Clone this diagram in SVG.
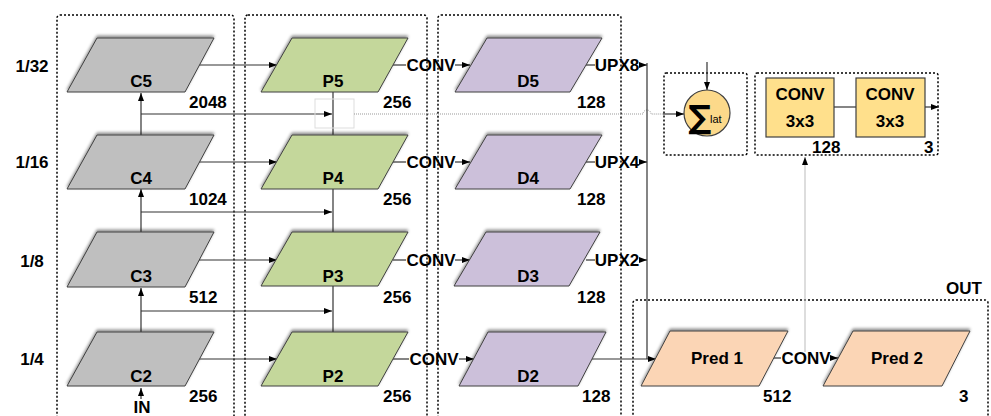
<svg xmlns="http://www.w3.org/2000/svg" width="991" height="416" viewBox="0 0 991 416">
<style>
.t{font-family:"Liberation Sans",Arial,sans-serif;font-weight:bold;font-size:17px;fill:#000}
.m{text-anchor:middle}
.box{fill:none;stroke:#000;stroke-width:1.5;stroke-dasharray:2,2}
.par{stroke:#404040;stroke-width:1;filter:url(#sh)}
.g{fill:#BFBFBF}.gr{fill:#C4D79B}.pu{fill:#CCC0DA}.pe{fill:#FBD5B5}
.ln{fill:none;stroke:#333;stroke-width:1.2}
.ar{fill:none;stroke:#333;stroke-width:1.2;marker-end:url(#ah)}
.cv{fill:#FFE08C;stroke:#404040;stroke-width:1.2}
</style>
<defs>
<marker id="ah" viewBox="0 0 8 6" refX="8" refY="3" markerWidth="8" markerHeight="6" markerUnits="userSpaceOnUse" orient="auto"><path d="M0,0 L8,3 L0,6 z" fill="#000"/></marker>
<filter id="sh" x="-10%" y="-20%" width="120%" height="140%"><feDropShadow dx="0" dy="-2" stdDeviation="1.8" flood-color="#000" flood-opacity="0.45"/></filter>
</defs>
<rect width="991" height="416" fill="#fff"/>

<g id="groups">
<rect class="box" x="57" y="15" width="177" height="430" rx="3"/>
<rect class="box" x="245" y="15" width="182" height="430" rx="3"/>
<rect class="box" x="438" y="15" width="183" height="430" rx="3"/>
<rect class="box" x="633" y="300" width="355" height="150" rx="3"/>
<text class="t" x="946" y="294">OUT</text>
<rect class="box" x="664" y="73" width="83" height="82" rx="2"/>
<rect class="box" x="755" y="73" width="183" height="82" rx="2"/>
</g>

<g id="scales">
<text class="t m" x="32" y="72">1/32</text>
<text class="t m" x="32" y="168">1/16</text>
<text class="t m" x="32" y="267">1/8</text>
<text class="t m" x="32" y="365">1/4</text>
</g>

<g id="connectors">
<path class="ar" d="M141,399 V388"/>
<path class="ar" d="M141,360 V288"/>
<path class="ar" d="M141,262 V189"/>
<path class="ar" d="M141,164 V93"/>
<path class="ar" d="M141,114 H332"/>
<path class="ar" d="M141,212 H332"/>
<path class="ar" d="M141,311 H332"/>
<path class="ar" d="M199,65 H277"/>
<path class="ar" d="M199,162 H277"/>
<path class="ar" d="M199,260 H277"/>
<path class="ar" d="M199,359 H277"/>
<path class="ar" d="M333,92 V159"/>
<path class="ar" d="M333,188 V258"/>
<path class="ar" d="M333,286 V358"/>
<rect x="315" y="99" width="39" height="29" fill="none" stroke="#ddd" stroke-width="1"/>
<path d="M354,114 H643 a4,4 0 0 1 8,0 H663" fill="none" stroke="#999" stroke-width="1" stroke-dasharray="1,1"/>
<path class="ar" d="M663,114 H684"/>
<path class="ar" d="M707,62 V90"/>
<path class="ln" d="M393,65 H406"/><path class="ar" d="M455,65 H470"/>
<path class="ln" d="M393,162 H406"/><path class="ar" d="M455,162 H470"/>
<path class="ln" d="M393,260 H406"/><path class="ar" d="M455,260 H470"/>
<path class="ln" d="M393,359 H409"/><path class="ar" d="M459,359 H474"/>
<path class="ln" d="M586,65 H595"/><path class="ar" d="M639,65 H647"/>
<path class="ln" d="M586,162 H595"/><path class="ar" d="M639,162 H647"/>
<path class="ln" d="M586,260 H595"/><path class="ar" d="M639,260 H647"/>
<path class="ln" d="M647,63 V359"/>
<path class="ar" d="M592,359 H656"/>
<path class="ln" d="M773,358 H781"/><path class="ar" d="M831,358 H838"/>
<path d="M805,352 V157" fill="none" stroke="#bbb" stroke-width="1" marker-end="url(#ah)"/>
<path class="ln" d="M834,107 H856"/>
<path class="ar" d="M925,107 H939"/>
</g>

<g id="C5"><path class="par g" d="M97,38 H214 L185,92 H67 Z"/><text class="t m" x="141" y="87">C5</text><text class="t" x="189" y="108">2048</text></g>
<g id="C4"><path class="par g" d="M97,135 H214 L185,189 H67 Z"/><text class="t m" x="141" y="184">C4</text><text class="t" x="189" y="205">1024</text></g>
<g id="C3"><path class="par g" d="M97,232 H214 L185,287 H67 Z"/><text class="t m" x="141" y="282">C3</text><text class="t" x="189" y="303">512</text></g>
<g id="C2"><path class="par g" d="M97,332 H214 L185,386 H67 Z"/><text class="t m" x="141" y="382">C2</text><text class="t" x="189" y="402">256</text></g>
<g id="IN"><text class="t m" x="142" y="413">IN</text></g>

<g id="P5"><path class="par gr" d="M292,38 H408 L378,92 H261 Z"/><text class="t m" x="333" y="87">P5</text><text class="t" x="383" y="108">256</text></g>
<g id="P4"><path class="par gr" d="M292,135 H408 L378,189 H261 Z"/><text class="t m" x="333" y="184">P4</text><text class="t" x="383" y="205">256</text></g>
<g id="P3"><path class="par gr" d="M292,232 H408 L378,286 H261 Z"/><text class="t m" x="333" y="282">P3</text><text class="t" x="383" y="303">256</text></g>
<g id="P2"><path class="par gr" d="M292,332 H408 L378,386 H261 Z"/><text class="t m" x="333" y="382">P2</text><text class="t" x="383" y="402">256</text></g>

<g id="convlabels">
<text class="t m" x="431" y="71">CONV</text>
<text class="t m" x="431" y="168">CONV</text>
<text class="t m" x="431" y="266">CONV</text>
<text class="t m" x="434" y="365">CONV</text>
<text class="t m" x="617" y="71">UPX8</text>
<text class="t m" x="617" y="168">UPX4</text>
<text class="t m" x="617" y="266">UPX2</text>
<text class="t m" x="806" y="364">CONV</text>
</g>

<g id="D5"><path class="par pu" d="M487,38 H602 L570,92 H455 Z"/><text class="t m" x="528" y="87">D5</text><text class="t" x="577" y="108">128</text></g>
<g id="D4"><path class="par pu" d="M487,135 H602 L570,189 H455 Z"/><text class="t m" x="528" y="184">D4</text><text class="t" x="577" y="205">128</text></g>
<g id="D3"><path class="par pu" d="M486,232 H600 L569,286 H454 Z"/><text class="t m" x="528" y="282">D3</text><text class="t" x="577" y="303">128</text></g>
<g id="D2"><path class="par pu" d="M488,332 H606 L578,386 H459 Z"/><text class="t m" x="528" y="382">D2</text><text class="t" x="582" y="402">128</text></g>

<g id="sum"><circle cx="707" cy="113" r="23" fill="#FCD98A" stroke="#404040" stroke-width="1.2"/><text x="700" y="128" text-anchor="middle" style="font-family:'DejaVu Sans',sans-serif;font-weight:bold;font-size:32px">∑</text><text x="710" y="123" style="font-family:'Liberation Sans',Arial,sans-serif;font-size:11px">lat</text></g>

<g id="conv1"><rect class="cv" x="766" y="78" width="68" height="59"/><text class="t m" x="800" y="100">CONV</text><text class="t m" x="800" y="127">3x3</text><text class="t" x="812" y="153">128</text></g>
<g id="conv2"><rect class="cv" x="856" y="78" width="69" height="59"/><text class="t m" x="890" y="100">CONV</text><text class="t m" x="890" y="127">3x3</text><text class="t" x="924" y="153">3</text></g>

<g id="Pred1"><path class="par pe" d="M670,331 H788 L759,386 H641 Z"/><text class="t m" x="717" y="364">Pred 1</text><text class="t" x="763" y="402">512</text></g>
<g id="Pred2"><path class="par pe" d="M853,331 H970 L942,386 H823 Z"/><text class="t m" x="897" y="364">Pred 2</text><text class="t" x="959" y="402">3</text></g>
</svg>
